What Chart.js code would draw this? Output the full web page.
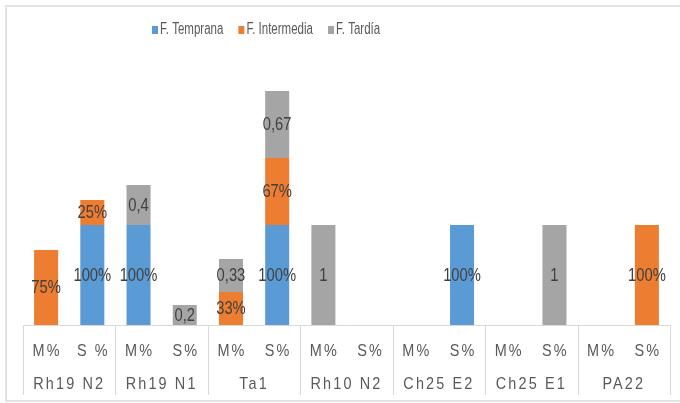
<!DOCTYPE html>
<html>
<head>
<meta charset="utf-8">
<script src="https://cdn.jsdelivr.net/npm/chart.js@4/dist/chart.umd.min.js"></script>
<style>
  html, body { margin: 0; padding: 0; background: #fff; }
  #wrap { position: relative; width: 680px; height: 403px; }
</style>
</head>
<body>
<div id="wrap"><canvas id="chart"></canvas></div>
<script>
const groups = ['Rh19 N2', 'Rh19 N1', 'Ta1', 'Rh10 N2', 'Ch25 E2', 'Ch25 E1', 'PA22'];
const subLabels = ['M%', 'S %', 'M%', 'S%', 'M%', 'S%', 'M%', 'S%', 'M%', 'S%', 'M%', 'S%', 'M%', 'S%'];

const temprana   = [null, 1,    1,    null, null, 1,    null, null, null, 1,    null, null, null, null];
const intermedia = [0.75, 0.25, null, null, 0.33, 0.67, null, null, null, null, null, null, null, 1];
const tardia     = [null, null, 0.4,  0.2,  0.33, 0.67, 1,    null, null, null, null, 1,    null, null];

const FONT = '"Liberation Sans", Arial, sans-serif';

const pct = v => Math.round(v * 100) + '%';
const dec = v => String(v).replace('.', ',');

const datasets = [
  { label: 'F. Temprana', data: temprana, backgroundColor: '#5b9bd5', fmt: pct },
  { label: 'F. Intermedia', data: intermedia, backgroundColor: '#ed7d31', fmt: pct },
  { label: 'F. Tardía', data: tardia, backgroundColor: '#a5a5a5', fmt: dec },
];

// condensed text, the original uses a narrow face
function narrowText(ctx, text, x, y, sx) {
  ctx.save();
  ctx.translate(x, y);
  ctx.scale(sx, 1);
  ctx.fillText(text, 0, 0);
  ctx.restore();
}

// frame, multi-level axis, legend and value labels
const excelLook = {
  id: 'excelLook',
  beforeDraw(chart) {
    const ctx = chart.ctx;
    ctx.save();
    ctx.strokeStyle = '#e3e3e3';
    ctx.lineWidth = 2;
    ctx.strokeRect(6, 6, 690, 395);
    ctx.restore();
  },
  afterDatasetsDraw(chart) {
    const ctx = chart.ctx;
    const x = chart.scales.x;
    const area = chart.chartArea;
    const half = (x.getPixelForValue(1) - x.getPixelForValue(0)) / 2;

    ctx.save();
    // value labels
    ctx.font = '18px ' + FONT;
    ctx.fillStyle = '#404040';
    ctx.textAlign = 'center';
    ctx.textBaseline = 'middle';
    chart.data.datasets.forEach((ds, di) => {
      chart.getDatasetMeta(di).data.forEach((bar, i) => {
        const v = ds.data[i];
        if (v == null) return;
        narrowText(ctx, ds.fmt(v), bar.x, (bar.y + bar.base) / 2 + 1, 0.82);
      });
    });

    // axis line and group separators
    ctx.strokeStyle = '#d9d9d9';
    ctx.lineWidth = 1;
    ctx.beginPath();
    ctx.moveTo(area.left, area.bottom + 0.5);
    ctx.lineTo(area.right, area.bottom + 0.5);
    for (let g = 0; g <= groups.length; g++) {
      const px = Math.round(x.getPixelForValue(g * 2) - half) + 0.5;
      ctx.moveTo(px, area.bottom);
      ctx.lineTo(px, area.bottom + 70);
    }
    ctx.stroke();

    // axis labels
    ctx.fillStyle = '#595959';
    ctx.font = '17px ' + FONT;
    ctx.letterSpacing = '2.5px';
    subLabels.forEach((t, i) => narrowText(ctx, t, x.getPixelForValue(i) + 1, area.bottom + 26, 0.85));
    groups.forEach((t, g) => {
      const cx = (x.getPixelForValue(g * 2) + x.getPixelForValue(g * 2 + 1)) / 2;
      narrowText(ctx, t, cx, area.bottom + 59, 0.85);
    });
    ctx.letterSpacing = '0px';

    // legend
    ctx.font = '16px ' + FONT;
    ctx.textAlign = 'left';
    let lx = 152;
    chart.data.datasets.forEach(ds => {
      ctx.fillStyle = ds.backgroundColor;
      ctx.fillRect(lx, 26, 6, 8);
      ctx.fillStyle = '#595959';
      narrowText(ctx, ds.label, lx + 8, 30, 0.72);
      lx += 8 + ctx.measureText(ds.label).width * 0.72 + 15;
    });
    ctx.restore();
  }
};

new Chart(document.getElementById('chart'), {
  type: 'bar',
  data: { labels: subLabels, datasets },
  options: {
    responsive: true,
    maintainAspectRatio: false,
    animation: false,
    layout: { padding: { left: 23, right: 10, top: 75, bottom: 78 } },
    datasets: { bar: { barPercentage: 0.52, categoryPercentage: 1 } },
    plugins: { legend: { display: false }, tooltip: { enabled: false } },
    scales: {
      x: { stacked: true, display: false },
      y: { stacked: true, display: false, min: 0, max: 2.5 }
    }
  },
  plugins: [excelLook]
});
</script>
</body>
</html>
